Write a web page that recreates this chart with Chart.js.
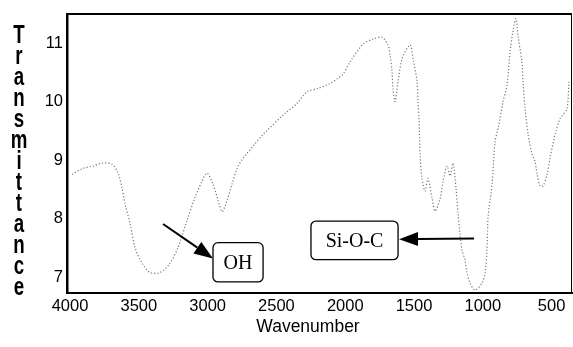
<!DOCTYPE html>
<html>
<head>
<meta charset="utf-8">
<script src="https://cdn.jsdelivr.net/npm/chart.js@4.4.1/dist/chart.umd.min.js"></script>
<style>
    html, body { margin: 0; padding: 0; background: #fff; }
    #wrap { position: relative; width: 573px; height: 347px; }
    #ytitle {
        position: absolute; left: 7px; top: 24px; width: 24px;
        font: bold 26px "Liberation Sans", Arial, sans-serif; line-height: 21px;
        text-align: center; color: #000; transform: scaleX(0.72);
    }
    #xtitle {
        position: absolute; left: 208px; top: 316px; width: 200px;
        font: 17.5px "Liberation Sans", Arial, sans-serif; line-height: 20px;
        text-align: center; color: #000;
    }
</style>
</head>
<body>
<div id="wrap">
    <canvas id="grafico" width="573" height="347"></canvas>
    <div id="ytitle"></div>
    <div id="xtitle">Wavenumber</div>
</div>
<script>
// --- DATOS DEL ESPECTRO ---
const wavenumbers = [3985, 3906, 3833, 3767, 3695, 3651, 3622, 3600, 3564, 3528, 3477, 3419, 3346, 3273,
    3215, 3150, 3092, 3041, 3004, 2961, 2924, 2895, 2859, 2823, 2786, 2743, 2670, 2597, 2438, 2350,
    2278, 2205, 2110, 2060, 2016, 1965, 1871, 1798, 1733, 1689, 1674, 1660, 1653, 1638, 1616, 1587,
    1529, 1507, 1478, 1471, 1464, 1456, 1442, 1420, 1398, 1369, 1347, 1311, 1289, 1260, 1238, 1217,
    1195, 1180, 1166, 1151, 1129, 1115, 1093, 1057, 1006, 984, 970, 962, 933, 911, 889, 853, 824,
    802, 780, 759, 744, 715, 708, 693, 671, 642, 621, 606, 584, 562, 533, 512, 475, 439, 417, 388, 374];
const transmittance = [8.76, 8.86, 8.90, 8.95, 8.93, 8.78, 8.52, 8.25, 7.92, 7.51, 7.24, 7.08, 7.08, 7.24,
    7.51, 7.97, 8.36, 8.64, 8.78, 8.59, 8.31, 8.12, 8.31, 8.59, 8.86, 9.03, 9.24, 9.44, 9.80, 9.97,
    10.17, 10.22, 10.31, 10.39, 10.47, 10.68, 10.98, 11.07, 11.10, 10.97, 10.80, 10.51, 10.22, 10.00, 10.34, 10.73,
    10.97, 10.73, 10.34, 10.00, 9.71, 9.10, 8.69, 8.47, 8.69, 8.35, 8.13, 8.34, 8.64, 8.90, 8.73, 8.95,
    8.52, 8.08, 7.74, 7.46, 7.29, 7.07, 6.90, 6.78, 6.90, 7.07, 7.46, 8.02, 8.59, 9.32, 9.54, 10.00, 10.29,
    10.85, 11.22, 11.42, 11.12, 10.66, 10.34, 9.88, 9.44, 9.10, 8.98, 8.76, 8.56, 8.56, 8.76, 9.03, 9.44, 9.71, 9.78, 9.88, 10.34];
const xTicks = [4000, 3500, 3000, 2500, 2000, 1500, 1000, 500];
const yTicks = [7, 8, 9, 10, 11];

// etiquetas con flecha (en unidades de datos)
const etiquetas = [
    { texto: 'OH', caja: [2961, 2597, 7.59, 6.92], flecha: [3324, 7.91, 2961, 7.32] },
    { texto: 'Si-O-C', caja: [2249, 1616, 7.96, 7.30], flecha: [1064, 7.66, 1609, 7.65] }
];

// titulo vertical letra por letra
const ytitle = document.getElementById('ytitle');
'Transmittance'.split('').forEach(l => {
    const d = document.createElement('div');
    d.textContent = l;
    ytitle.appendChild(d);
});

const puntos = wavenumbers.map((w, i) => ({ x: w, y: transmittance[i] }));

const dibujarFlecha = (ctx, x1, y1, x2, y2) => {
    const ang = Math.atan2(y2 - y1, x2 - x1);
    const largo = 19, ancho = 7;
    const bx = x2 - largo * Math.cos(ang), by = y2 - largo * Math.sin(ang);
    ctx.beginPath();
    ctx.moveTo(x1, y1);
    ctx.lineTo(bx, by);
    ctx.stroke();
    ctx.beginPath();
    ctx.moveTo(x2, y2);
    ctx.lineTo(bx + ancho * Math.sin(ang), by - ancho * Math.cos(ang));
    ctx.lineTo(bx - ancho * Math.sin(ang), by + ancho * Math.cos(ang));
    ctx.closePath();
    ctx.fill();
};

const marcoPlugin = {
    id: 'marco',
    afterDraw(chart) {
        const { ctx, chartArea: a, scales: { x, y } } = chart;
        ctx.save();
        ctx.strokeStyle = '#000';
        ctx.fillStyle = '#000';
        ctx.lineWidth = 2;
        ctx.beginPath(); ctx.moveTo(a.left, a.top); ctx.lineTo(a.right, a.top); ctx.stroke();
        ctx.lineWidth = 1;
        ctx.beginPath(); ctx.moveTo(a.right - 0.5, a.top); ctx.lineTo(a.right - 0.5, a.bottom); ctx.stroke();

        etiquetas.forEach(e => {
            const x1 = x.getPixelForValue(e.caja[0]), x2 = x.getPixelForValue(e.caja[1]);
            const y1 = y.getPixelForValue(e.caja[2]), y2 = y.getPixelForValue(e.caja[3]);
            ctx.lineWidth = 1.3;
            ctx.beginPath();
            ctx.roundRect(x1, y1, x2 - x1, y2 - y1, 5);
            ctx.stroke();
            ctx.font = '20px "Liberation Serif", "Times New Roman", serif';
            ctx.textAlign = 'center';
            ctx.textBaseline = 'middle';
            ctx.fillText(e.texto, (x1 + x2) / 2, (y1 + y2) / 2 + 1);
            ctx.lineWidth = 2;
            dibujarFlecha(ctx,
                x.getPixelForValue(e.flecha[0]), y.getPixelForValue(e.flecha[1]),
                x.getPixelForValue(e.flecha[2]), y.getPixelForValue(e.flecha[3]));
        });
        ctx.restore();
    }
};

const fuente = { family: '"Liberation Sans", Arial, sans-serif', size: 16.5 };

new Chart(document.getElementById('grafico').getContext('2d'), {
    type: 'line',
    data: {
        datasets: [{
            label: 'Transmittance',
            data: puntos,
            borderColor: 'rgba(95,95,95,0.85)',
            borderWidth: 1.2,
            borderDash: [1.2, 2],
            pointRadius: 0,
            tension: 0.3,
            fill: false
        }]
    },
    options: {
        responsive: false,
        animation: false,
        layout: { padding: { top: 10, right: 1, left: 0, bottom: 0 }, autoPadding: false },
        plugins: { legend: { display: false }, tooltip: { enabled: false } },
        scales: {
            x: {
                type: 'linear',
                reverse: true,
                min: 352,
                max: 4022,
                afterFit: s => { s.height = 54; },
                afterBuildTicks: s => { s.ticks = xTicks.map(v => ({ value: v })); },
                grid: { display: false, drawTicks: false },
                border: { display: true, color: '#000', width: 2 },
                ticks: { color: '#000', font: fuente, padding: 4, maxRotation: 0, autoSkip: false,
                    callback: v => String(v) }
            },
            y: {
                min: 6.73,
                max: 11.5,
                afterFit: s => { s.width = 67; },
                afterBuildTicks: s => { s.ticks = yTicks.map(v => ({ value: v })); },
                grid: { display: false, drawTicks: false },
                border: { display: true, color: '#000', width: 2.5 },
                ticks: { color: '#000', font: fuente, padding: 4, callback: v => String(v) }
            }
        }
    },
    plugins: [marcoPlugin]
});
</script>
</body>
</html>
